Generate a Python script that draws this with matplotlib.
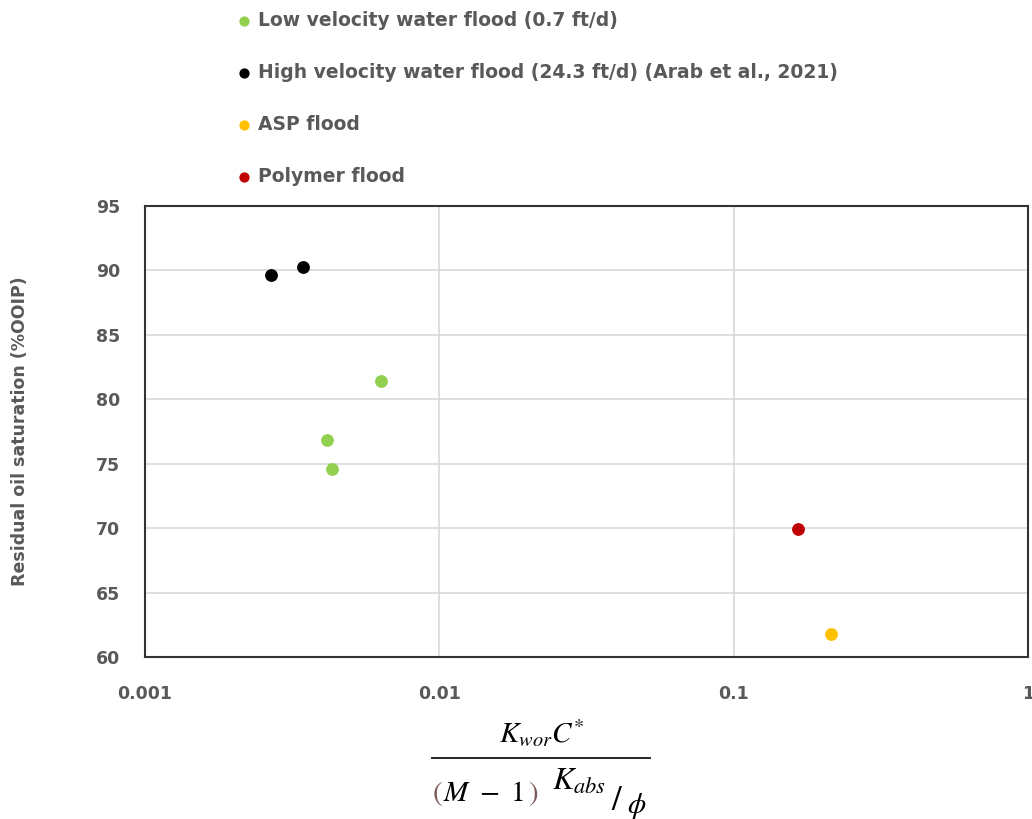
import matplotlib
matplotlib.use("Agg")
import matplotlib.pyplot as plt
from matplotlib.lines import Line2D

# data
low_x = [0.00634, 0.00415, 0.00432]
low_y = [81.4, 76.85, 74.6]
high_x = [0.00268, 0.00344]
high_y = [89.65, 90.3]
asp_x = [0.214]
asp_y = [61.8]
poly_x = [0.1655]
poly_y = [69.9]

series = [
    ("Low velocity water flood (0.7 ft/d)", low_x, low_y, "#92d050"),
    ("High velocity water flood (24.3 ft/d) (Arab et al., 2021)", high_x, high_y, "#000000"),
    ("ASP flood", asp_x, asp_y, "#ffc000"),
    ("Polymer flood", poly_x, poly_y, "#c00000"),
]

grey = "#595959"
plt.rcParams["mathtext.fontset"] = "stix"

W, H = 1032, 819
fig = plt.figure(figsize=(W / 100, H / 100), dpi=100)
ax = fig.add_axes([0.1405, 0.1978, 0.8556, 0.5507])


def px(x, y):
    # pixel position (from top-left) -> figure fraction
    return x / W, 1 - y / H


handles = []
for label, xs, ys, c in series:
    h = ax.scatter(xs, ys, s=85, color=c, label=label, zorder=3, linewidths=0)
    handles.append(h)

ax.set_xscale("log")
ax.set_xlim(0.001, 1)
ax.set_ylim(60, 95)
ax.set_yticks(range(60, 96, 5))
ax.set_xticks([0.001, 0.01, 0.1, 1])
ax.set_xticklabels(["0.001", "0.01", "0.1", "1"])
ax.minorticks_off()
ax.grid(True, color="#d9d9d9", linewidth=1.2)
ax.set_axisbelow(True)
for sp in ax.spines.values():
    sp.set_color("#333333")
    sp.set_linewidth(1.5)
ax.tick_params(axis="y", length=0, pad=18, labelsize=12.5, labelcolor=grey)
ax.tick_params(axis="x", length=0, pad=20, labelsize=12.5, labelcolor=grey)
for t in ax.get_xticklabels() + ax.get_yticklabels():
    t.set_fontweight("bold")

ax.set_ylabel("Residual oil saturation (%OOIP)", fontsize=12.5, fontweight="bold",
              color=grey)
ax.yaxis.set_label_coords(-(145 - 29) / 883, 0.5)

# x-axis label drawn as a stacked fraction
fig.text(*px(542, 742), r"$K_{wor}C^{*}$", fontsize=21, ha="center", va="baseline")
fig.add_artist(Line2D([432 / W, 650 / W], [1 - 757.5 / H, 1 - 757.5 / H],
                      color="#262626", linewidth=1.4))
paren = "#7a5a5a"
fig.text(*px(432, 801), r"$($", fontsize=21, ha="left", va="baseline", color=paren)
fig.text(*px(483, 801), r"$M\ -\ 1$", fontsize=21, ha="center", va="baseline")
fig.text(*px(538, 801), r"$)$", fontsize=21, ha="right", va="baseline", color=paren)
fig.text(*px(552, 790), r"$K_{abs}$", fontsize=23, ha="left", va="baseline")
fig.text(*px(611, 810), r"$/$", fontsize=25, ha="left", va="baseline")
fig.text(*px(627, 813), r"$\phi$", fontsize=21, ha="left", va="baseline")

fig.legend(handles=handles, loc="upper left", bbox_to_anchor=(0.212, 1.0075),
           frameon=False, handletextpad=0.3,
           labelspacing=1.77, handlelength=0.9, markerscale=0.8,
           labelcolor=grey, prop={"weight": "bold", "size": 13.5})

fig.savefig("out.png", dpi=100)
